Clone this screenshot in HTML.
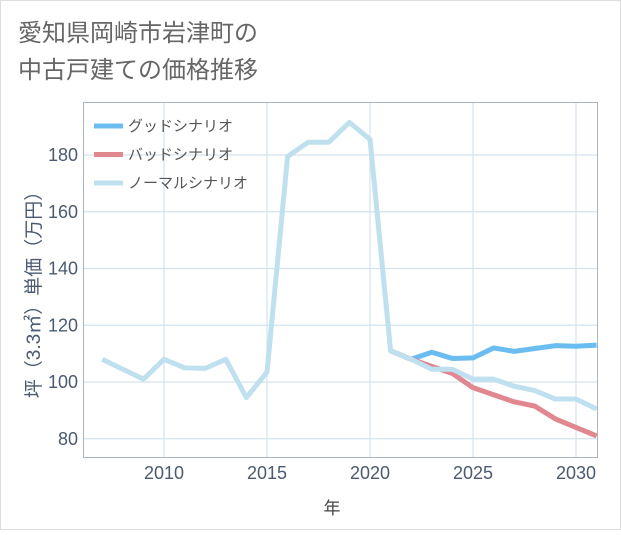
<!DOCTYPE html>
<html><head><meta charset="utf-8"><style>
body{margin:0;background:#fff;font-family:"Liberation Sans","Noto Sans CJK JP",sans-serif;}
#wrap{position:relative;width:621px;height:530px;}
</style></head><body>
<div id="wrap">
<svg width="621" height="530" id="svg" font-family="'Liberation Sans','Noto Sans CJK JP',sans-serif">
<rect x="0.5" y="0.5" width="620" height="529" fill="#fff" stroke="#ddd"/>
<text x="18" y="41" font-size="24" fill="#666">愛知県岡崎市岩津町の</text>
<text x="18" y="78" font-size="24" fill="#666">中古戸建ての価格推移</text>
<g id="grid"></g>
<g id="lines"></g>
<rect x="83.5" y="102.5" width="514" height="355" fill="none" stroke="#aab4bf"/>
<g id="legend"></g>
<text x="332" y="514" font-size="17" fill="#444" text-anchor="middle">年</text>
<text transform="translate(40,290) rotate(-90)" font-size="19" fill="#4a5a70" text-anchor="middle">坪（3.3㎡）単価（万円）</text>
</svg>
</div>
<script>
const years=[2007,2008,2009,2010,2011,2012,2013,2014,2015,2016,2017,2018,2019,2020,2021,2022,2023,2024,2025,2026,2027,2028,2029,2030,2031];
const normal=[108,104.5,101,108,105,104.8,108,94.5,103.5,179.5,184.5,184.5,191.5,185.5,111,108,104.5,104.5,101,101,98.5,97,94,94,90.5];
const goodYears=[2021,2022,2023,2024,2025,2026,2027,2028,2029,2030,2031];
const good=[111,108,110.5,108.3,108.5,112,110.8,111.8,112.8,112.6,113];
const bad=[111,108,105.5,103,98,95.5,93,91.5,87,84,81];
const xTicks=[2010,2015,2020,2025,2030];
const yTicks=[80,100,120,140,160,180];
const NS="http://www.w3.org/2000/svg";
const X=y=>473+(y-2025)*20.6;
const Y=v=>382-(v-100)*2.8375;
function mk(tag,attrs,parent){const e=document.createElementNS(NS,tag);for(const k in attrs)e.setAttribute(k,attrs[k]);parent.appendChild(e);return e;}
const grid=document.getElementById('grid');
xTicks.forEach(t=>{
 const l=mk('line',{x1:X(t),x2:X(t),y1:103,y2:457,stroke:'#d3e3ee','stroke-width':1.2},grid);
 
 
 const tx=mk('text',{x:X(t),y:479,'font-size':18,fill:'#4a5a70','text-anchor':'middle'},grid);
 tx.textContent=t;
 
 
});
yTicks.forEach(t=>{
 const l=mk('line',{x1:84,x2:597,y1:Y(t),y2:Y(t),stroke:'#d3e3ee','stroke-width':1.2},grid);
 
 
 const tx=mk('text',{x:78,y:Y(t)+6,'font-size':18,fill:'#4a5a70','text-anchor':'end'},grid);
 tx.textContent=t;
 
 
});
const lines=document.getElementById('lines');
function series(xs,vs,color,name){
 const p=mk('polyline',{points:xs.map((y,i)=>X(y)+','+Y(vs[i])).join(' '),fill:'none',stroke:color,'stroke-width':5,'stroke-linejoin':'round'},lines);
 
 
}
const clip=mk('clipPath',{id:'c'},lines);mk('rect',{x:84,y:103,width:513,height:354},clip);
lines.setAttribute('clip-path','url(#c)');
series(goodYears,good,'#6bbcf0','good-scenario-line');
series(goodYears,bad,'#e0878f','bad-scenario-line');
series(years,normal,'#bfe0ee','normal-scenario-line');
const leg=document.getElementById('legend');
[['グッドシナリオ','#6bbcf0','good'],['バッドシナリオ','#e0878f','bad'],['ノーマルシナリオ','#bfe0ee','normal']].forEach((d,i)=>{
 const y=126+i*28.5;
 const l=mk('line',{x1:94,x2:123,y1:y,y2:y,stroke:d[1],'stroke-width':5},leg);
 
 
 const t=mk('text',{x:128,y:y+5,'font-size':15,fill:'#555'},leg);
 t.textContent=d[0];
 
 
});
</script>
</body></html>
